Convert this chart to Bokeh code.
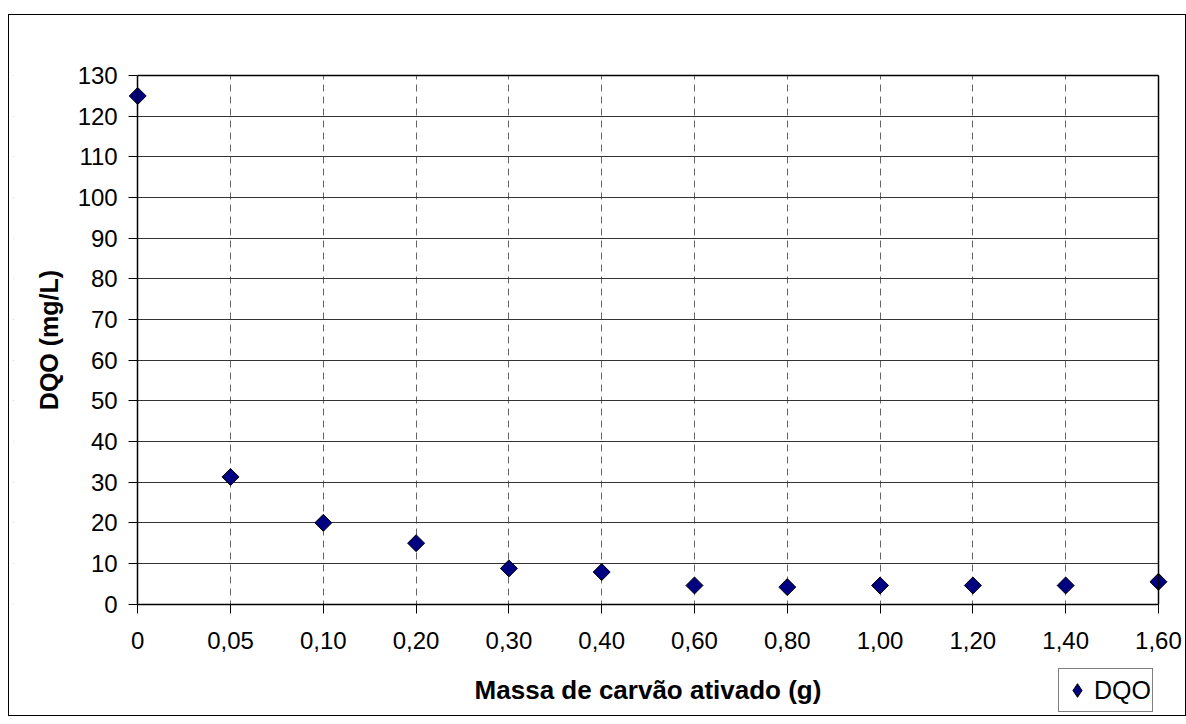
from bokeh.plotting import figure
from bokeh.models import (ColumnDataSource, FixedTicker, Legend, LegendItem, Range1d,
                          LinearAxis, BoxAnnotation)
from bokeh.embed import file_html
from bokeh.resources import INLINE
import math

# ---- data ----
x_labels = ["0", "0,05", "0,10", "0,20", "0,30", "0,40", "0,60", "0,80",
            "1,00", "1,20", "1,40", "1,60"]
dqo = [125, 31.3, 20, 15, 8.8, 7.9, 4.6, 4.2, 4.6, 4.6, 4.6, 5.5]
y_ticks = list(range(0, 131, 10))

x_pos = list(range(len(x_labels)))
x_last = len(x_labels) - 1
y_top = 130
src = ColumnDataSource(data=dict(x=x_pos, y=dqo))

FONT = "Liberation Sans"
AXW = 1.5

# ---- layout geometry (canvas pixels) ----
W, H = 1178, 702             # figure incl. 1px css border
CW, CH = W - 2, H - 2        # canvas
px_x0, px_x1 = 128, 1147     # where x=0 and x=last category sit
px_ytop, px_y0 = 60, 587     # where y=130 and y=0 sit
b_left, b_right, b_top, b_bottom = 4, 2, 20, 2
fx0, fx1 = b_left, CW - b_right
fy0, fy1 = b_top, CH - b_bottom
sx = (px_x1 - px_x0) / x_last
sy = (px_y0 - px_ytop) / y_top
x_start = -(px_x0 - fx0) / sx
x_end = x_last + (fx1 - px_x1) / sx
y_start = -(fy1 - px_y0) / sy
y_end = y_top + (px_ytop - fy0) / sy

p = figure(width=W, height=H, output_backend="svg", toolbar_location=None,
           x_range=Range1d(x_start, x_end), y_range=Range1d(y_start, y_end),
           min_border_left=b_left, min_border_right=b_right, min_border_top=b_top,
           min_border_bottom=b_bottom)
p.margin = (14, 0, 0, 8)
p.styles = {"border": "1px solid black", "box-sizing": "border-box"}
p.title.visible = False

p.background_fill_color = "white"
p.border_fill_color = "white"
p.outline_line_color = None

# main axes, pinned at data 0
p.xaxis.fixed_location = 0
p.yaxis.fixed_location = 0
p.xaxis.bounds = (0, x_last)
p.yaxis.bounds = (0, y_top)
p.xaxis.ticker = FixedTicker(ticks=x_pos)
p.xaxis.major_label_overrides = {i: lab for i, lab in enumerate(x_labels)}
p.yaxis.ticker = FixedTicker(ticks=y_ticks)
for ax in (p.xaxis[0], p.yaxis[0]):
    ax.axis_line_color = "black"
    ax.axis_line_width = AXW
    ax.major_tick_line_color = "black"
    ax.major_tick_out = 9
    ax.major_tick_in = 0
    ax.minor_tick_line_color = None
    ax.major_label_text_font = FONT
    ax.major_label_text_font_size = "24px"
    ax.major_label_text_color = "black"
    ax.axis_label_text_font = FONT
    ax.axis_label_text_font_style = "bold"
    ax.axis_label_text_color = "black"

p.xaxis.axis_label_text_font_size = "26px"
p.yaxis.axis_label_text_font_size = "25px"
p.xaxis.major_label_standoff = 19
p.yaxis.major_label_standoff = 11
p.xaxis.axis_label = "Massa de carvão ativado (g)"
p.yaxis.axis_label = "DQO (mg/L)"
p.xaxis.axis_label_standoff = 22
p.yaxis.axis_label_standoff = 11

# plot-area border on top and right
top_ax = LinearAxis(fixed_location=y_top, bounds=(0, x_last), ticker=FixedTicker(ticks=[]),
                    axis_line_color="black", axis_line_width=AXW,
                    major_tick_line_color=None, minor_tick_line_color=None,
                    major_label_text_color=None)
right_ax = LinearAxis(fixed_location=x_last, bounds=(0, y_top), ticker=FixedTicker(ticks=[]),
                      axis_line_color="black", axis_line_width=AXW,
                      major_tick_line_color=None, minor_tick_line_color=None,
                      major_label_text_color=None)
p.add_layout(top_ax, "above")
p.add_layout(right_ax, "right")

# grids
p.ygrid.grid_line_color = "#333333"
p.ygrid.grid_line_width = 1
p.ygrid.ticker = FixedTicker(ticks=y_ticks)
p.xgrid.grid_line_color = "#666666"
p.xgrid.grid_line_dash = "7 5"
p.xgrid.grid_line_width = 1
p.xgrid.ticker = FixedTicker(ticks=x_pos)

# white masks hiding grid lines outside the plot area
for kw in (dict(top=0), dict(right=0), dict(left=x_last), dict(bottom=y_top)):
    p.add_layout(BoxAnnotation(fill_color="white", fill_alpha=1.0, line_alpha=0,
                               level="underlay", **kw))

r = p.scatter("x", "y", source=src, marker="square", size=12, angle=math.pi / 4,
              fill_color="#000080", line_color="black", line_width=1)

# legend-only renderer: zero-size markers on the plot, swatch drawn by the legend
r_leg = p.scatter("x", "y", source=src, marker="diamond", size=0,
                  fill_color="#000080", line_color="black", line_width=1)

leg_left_px, leg_bottom_px = 1049, 695
legend = Legend(items=[LegendItem(label="DQO", renderers=[r_leg])],
                location=(leg_left_px - fx0, fy1 - leg_bottom_px), orientation="vertical",
                border_line_color="black", border_line_width=1,
                background_fill_color="white", background_fill_alpha=1.0,
                label_text_font=FONT, label_text_font_size="25px",
                label_text_color="black", label_height=28,
                glyph_width=34, glyph_height=40, label_standoff=-1,
                padding=1, margin=0, spacing=0)
p.add_layout(legend, "center")

open("out.html", "w").write(file_html(p, INLINE))
